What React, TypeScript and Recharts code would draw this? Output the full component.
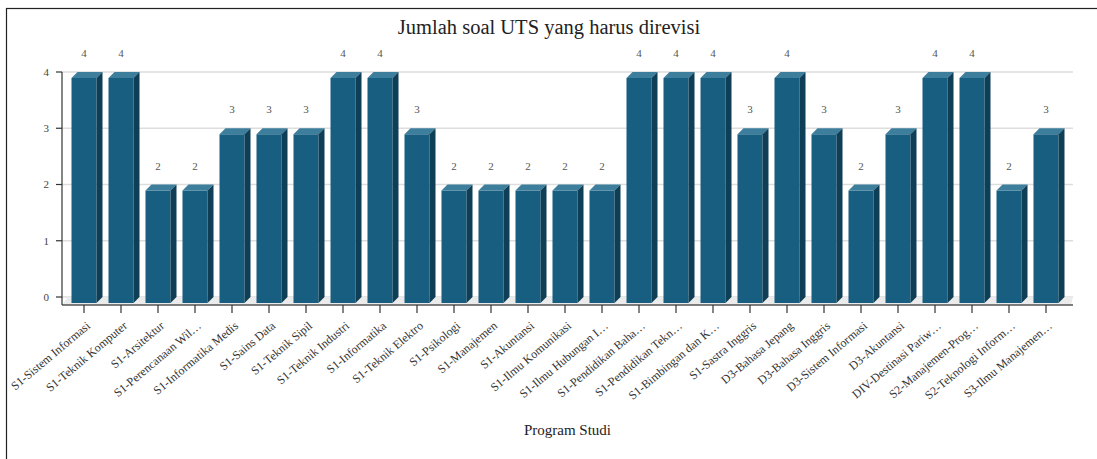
import React from 'react';
import { BarChart, Bar, XAxis, YAxis, CartesianGrid, LabelList, Customized } from 'recharts';

const categories = [
  'S1-Sistem Informasi',
  'S1-Teknik Komputer',
  'S1-Arsitektur',
  'S1-Perencanaan Wil…',
  'S1-Informatika Medis',
  'S1-Sains Data',
  'S1-Teknik Sipil',
  'S1-Teknik Industri',
  'S1-Informatika',
  'S1-Teknik Elektro',
  'S1-Psikologi',
  'S1-Manajemen',
  'S1-Akuntansi',
  'S1-Ilmu Komunikasi',
  'S1-Ilmu Hubungan I…',
  'S1-Pendidikan Baha…',
  'S1-Pendidikan Tekn…',
  'S1-Bimbingan dan K…',
  'S1-Sastra Inggris',
  'D3-Bahasa Jepang',
  'D3-Bahasa Inggris',
  'D3-Sistem Informasi',
  'D3-Akuntansi',
  'DIV-Destinasi Pariw…',
  'S2-Manajemen-Prog…',
  'S2-Teknologi Inform…',
  'S3-Ilmu Manajemen…',
];

const values = [4, 4, 2, 2, 3, 3, 3, 4, 4, 3, 2, 2, 2, 2, 2, 4, 4, 4, 3, 4, 3, 2, 3, 4, 4, 2, 3];

const yTicks = [0, 1, 2, 3, 4];

const chartTitle = 'Jumlah soal UTS yang harus direvisi';
const xAxisTitle = 'Program Studi';

const data = categories.map((name, i) => ({ name, value: values[i] }));

const FONT = '"Liberation Serif", "Times New Roman", serif';
const W = 1097;
const H = 459;
const PLOT_LEFT = 62;
const PLOT_RIGHT = 1073;
const PLOT_TOP = 72;
const PLOT_BOTTOM = 297;
const DEPTH = 6;

const FRONT = '#175e80';
const TOP = '#3d7e9c';
const SIDE = '#0f3f56';

function Bar3D(props: any) {
  const { x, y, width, height } = props;
  if (width == null || height == null) return null;
  const d = DEPTH;
  return (
    <g>
      <rect x={x} y={y + d} width={width} height={height} fill={FRONT} />
      <polygon
        points={`${x},${y + d} ${x + d},${y} ${x + width + d},${y} ${x + width},${y + d}`}
        fill={TOP}
      />
      <polygon
        points={`${x + width},${y + d} ${x + width + d},${y} ${x + width + d},${y + height} ${x + width},${y + height + d}`}
        fill={SIDE}
      />
    </g>
  );
}

function XTick(props: any) {
  const { x, y, payload } = props;
  return (
    <g>
      <line x1={x} y1={y + 8} x2={x} y2={y + 16} stroke="#333" strokeWidth={1.2} />
      <text
        transform={`translate(${x + 7},${y + 30}) rotate(-40)`}
        textAnchor="end"
        fontSize={12}
        fontFamily={FONT}
        fill="#333"
      >
        {payload.value}
      </text>
    </g>
  );
}

function ValueLabel(props: any) {
  const { x, y, width, value } = props;
  return (
    <text x={x + width / 2} y={y - 15} textAnchor="middle" fontSize={11} fontFamily={FONT} fill="#555">
      {value}
    </text>
  );
}

function Decor() {
  return (
    <g>
      <rect x={6.5} y={8.5} width={1200} height={1000} fill="none" stroke="#222" strokeWidth={1.2} />
      <text x={549} y={34} textAnchor="middle" fontSize={20.5} fontFamily={FONT} fill="#222">
        {chartTitle}
      </text>
      <polygon
        points={`${PLOT_LEFT},${PLOT_BOTTOM + 8} ${PLOT_LEFT + DEPTH},${PLOT_BOTTOM} ${PLOT_RIGHT},${PLOT_BOTTOM} ${PLOT_RIGHT - 2},${PLOT_BOTTOM + 8}`}
        fill="#ebebeb"
      />
      <line x1={PLOT_LEFT} y1={PLOT_BOTTOM + 8} x2={PLOT_RIGHT} y2={PLOT_BOTTOM + 8} stroke="#555" strokeWidth={1.5} />
      <line x1={PLOT_LEFT} y1={PLOT_TOP} x2={PLOT_LEFT} y2={PLOT_BOTTOM + 8} stroke="#333" strokeWidth={1.2} />
    </g>
  );
}

export default function App() {
  return (
    <div style={{ position: 'absolute', left: 0, top: 0, width: W, height: H, background: '#fff' }}>
      <BarChart
        width={W}
        height={H}
        data={data}
        margin={{ top: PLOT_TOP, right: W - PLOT_RIGHT, bottom: 22, left: 0 }}
      >
        <Customized component={<Decor />} />
        <CartesianGrid vertical={false} stroke="#dddddd" strokeWidth={1.5} />
        <XAxis
          dataKey="name"
          interval={0}
          axisLine={false}
          tickLine={false}
          tickSize={0}
          tickMargin={0}
          height={H - PLOT_BOTTOM - 22}
          padding={{ left: 3.5, right: 8.5 }}
          tick={<XTick />}
          label={{ value: xAxisTitle, position: 'insideBottom', offset: 2, fontSize: 15, fontFamily: FONT, fill: '#222' }}
        />
        <YAxis
          width={PLOT_LEFT}
          domain={[0, 4]}
          ticks={yTicks}
          interval={0}
          axisLine={false}
          tickLine={{ stroke: '#333', strokeWidth: 1.2 }}
          tickSize={6}
          tickMargin={7}
          tick={{ fontSize: 11, fontFamily: FONT, fill: '#444' }}
        />
        <Bar dataKey="value" barSize={25} shape={<Bar3D />} isAnimationActive={false}>
          <LabelList dataKey="value" content={<ValueLabel />} />
        </Bar>
      </BarChart>
    </div>
  );
}
